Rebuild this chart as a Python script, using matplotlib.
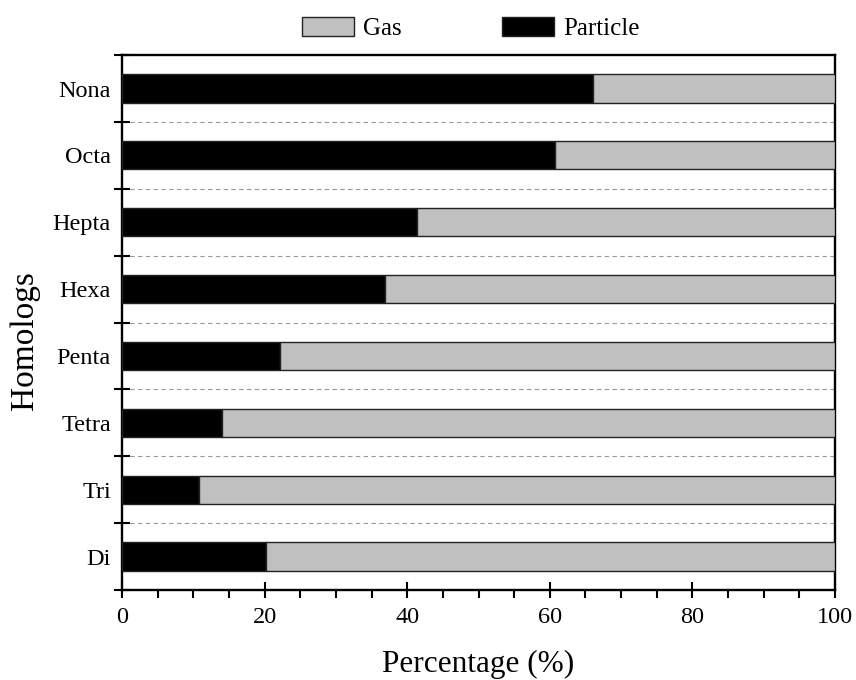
import matplotlib.pyplot as plt
import numpy as np
from matplotlib.ticker import MultipleLocator

# homolog groups, bottom to top
homologs = ["Di", "Tri", "Tetra", "Penta", "Hexa", "Hepta", "Octa", "Nona"]
# particle fraction (%), gas is the rest
particle = [20.2, 10.8, 14.0, 22.2, 36.9, 41.4, 60.7, 66.1]
gas = [100 - p for p in particle]

plt.rcParams['font.family'] = ['Liberation Serif', 'DejaVu Serif']

fig = plt.figure(figsize=(8.56, 6.8), dpi=100)
ax = fig.add_axes([0.1425, 0.1324, 0.833, 0.7866])

y = np.arange(len(homologs))
ax.barh(y, particle, height=0.42, color="black", edgecolor="#222222", linewidth=1, label="Particle", zorder=3)
ax.barh(y, gas, left=particle, height=0.42, color="#c0c0c0", edgecolor="#222222", linewidth=1, label="Gas", zorder=3)

# dashed separators between groups
for b in np.arange(0.5, len(homologs) - 1, 1):
    ax.axhline(b, color="#999999", linestyle=(0, (4, 3)), linewidth=0.8, zorder=1)

ax.set_xlim(0, 100)
ax.set_ylim(-0.5, len(homologs) - 0.5)

# x ticks: labelled every 20, small ticks every 5
ax.xaxis.set_major_locator(MultipleLocator(20))
ax.xaxis.set_minor_locator(MultipleLocator(5))
ax.tick_params(axis="x", which="major", direction="inout", length=12, width=1.5, labelsize=17.5, pad=6)
ax.tick_params(axis="x", which="minor", direction="out", length=6, width=1.5)

# y ticks: marks between groups, labels at group centres
ax.set_yticks(np.arange(-0.5, len(homologs), 1))
ax.set_yticklabels([])
ax.set_yticks(y, minor=True)
ax.set_yticklabels(homologs, minor=True)
ax.tick_params(axis="y", which="major", direction="inout", length=12, width=1.5)
ax.tick_params(axis="y", which="minor", length=0, labelsize=17.5, pad=8)

for s in ax.spines.values():
    s.set_linewidth(1.7)

ax.set_xlabel("Percentage (%)", fontsize=22.5)
ax.xaxis.set_label_coords(0.5, -0.112)
ax.set_ylabel("Homologs", fontsize=24)
ax.yaxis.set_label_coords(-0.115, 0.467)

# legend above the plot, gas first
handles, labels = ax.get_legend_handles_labels()
ax.legend(handles[::-1], labels[::-1], loc="center", bbox_to_anchor=(0.489, 1.050), ncol=2,
          frameon=False, fontsize=18, handlelength=2.1, handleheight=0.8, columnspacing=4.0,
          handletextpad=0.36)

plt.savefig("out.png", dpi=100)
